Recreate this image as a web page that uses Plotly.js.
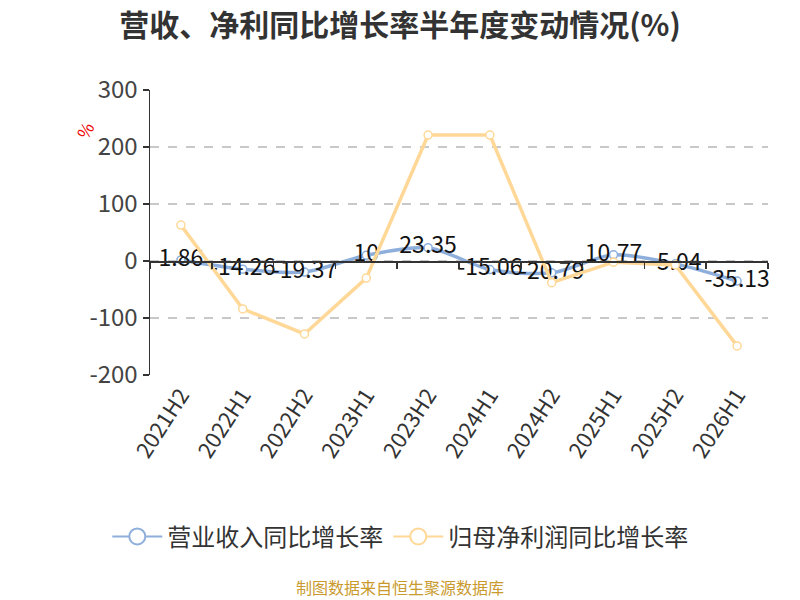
<!DOCTYPE html>
<html>
<head>
<meta charset="utf-8">
<script src="https://cdn.plot.ly/plotly-3.0.1.min.js"></script>
<style>
  body { margin: 0; background: #fff; }
  #chart { width: 800px; height: 600px; }
</style>
</head>
<body>
<div id="chart"></div>
<script>
// half-year periods and YoY growth (%)
var periods = ['2021H2', '2022H1', '2022H2', '2023H1', '2023H2', '2024H1', '2024H2', '2025H1', '2025H2', '2026H1'];
var revenueGrowth = [1.86, -14.26, -19.37, 10, 23.35, -15.06, -20.79, 10.77, -5.04, -35.13];
var profitGrowth = [63, -84, -128, -30, 221, 221, -38, -2, -7, -149];
var yTicks = [-200, -100, 0, 100, 200, 300];

var FONT = '"Noto Sans CJK SC", "Noto Sans", sans-serif';
var BLUE = '#8eaedc';
var ORANGE = '#ffd898';

var revenue = {
    name: '营业收入同比增长率',
    x: periods,
    y: revenueGrowth,
    type: 'scatter',
    mode: 'lines+markers+text',
    text: revenueGrowth.map(String),
    textposition: 'middle center',
    textfont: { family: FONT, size: 23, color: '#111' },
    line: { color: BLUE, width: 3.5, shape: 'spline', smoothing: 0.8 },
    marker: { symbol: 'circle', size: 8, color: '#fff', line: { color: BLUE, width: 1.5 } },
    cliponaxis: false,
    showlegend: false,
    xaxis: 'x',
    yaxis: 'y'
};

var profit = {
    name: '归母净利润同比增长率',
    x: periods,
    y: profitGrowth,
    type: 'scatter',
    mode: 'lines+markers',
    line: { color: ORANGE, width: 3.5 },
    marker: { symbol: 'circle', size: 8, color: '#fff', line: { color: ORANGE, width: 1.5 } },
    cliponaxis: false,
    showlegend: false,
    xaxis: 'x2',
    yaxis: 'y'
};

// legend entries only (bigger symbols than the plotted markers)
function legendEntry(name, color) {
    return {
        name: name,
        x: [null],
        y: [null],
        type: 'scatter',
        mode: 'lines+markers',
        line: { color: color, width: 2 },
        marker: { symbol: 'circle', size: 16, color: '#fff', line: { color: color, width: 2 } },
        showlegend: true,
        hoverinfo: 'skip'
    };
}

var layout = {
    width: 800,
    height: 600,
    paper_bgcolor: '#fff',
    plot_bgcolor: '#fff',
    font: { family: FONT, color: '#333' },
    margin: { l: 150, r: 32, t: 90, b: 225 },
    title: {
        text: '<b>营收、净利同比增长率半年度变动情况(%)</b>',
        font: { family: FONT, size: 30, color: '#333' },
        x: 0.5, xanchor: 'center',
        y: 0.958, yanchor: 'middle'
    },
    showlegend: true,
    legend: {
        orientation: 'h',
        x: 0.405, xanchor: 'center',
        y: -0.568, yanchor: 'middle',
        font: { family: FONT, size: 24, color: '#333' },
        itemwidth: 50,
        tracegroupgap: 0
    },
    xaxis: {
        type: 'category',
        categoryorder: 'array',
        categoryarray: periods,
        range: [-0.5, 9.5],
        showgrid: false,
        showline: false,
        zeroline: false,
        ticks: '',
        tickangle: -57,
        tickfont: { family: FONT, size: 22, color: '#333' },
        ticklabelstandoff: 2
    },
    xaxis2: {
        type: 'category',
        categoryorder: 'array',
        categoryarray: periods,
        range: [-0.5, 9.5],
        overlaying: 'x',
        anchor: 'free',
        position: 0.4,
        side: 'bottom',
        showgrid: false,
        showline: true,
        linecolor: '#333',
        linewidth: 1.5,
        zeroline: false,
        ticks: 'outside',
        tickson: 'boundaries',
        ticklen: 6,
        tickcolor: '#333',
        tickwidth: 1.5,
        showticklabels: false
    },
    yaxis: {
        range: [-200, 300],
        tickvals: yTicks,
        ticktext: yTicks.map(String),
        showgrid: true,
        gridcolor: '#c8c8c8',
        griddash: 'dash',
        gridwidth: 1.3,
        zeroline: false,
        showline: true,
        linecolor: '#333',
        linewidth: 1.5,
        ticks: 'outside',
        ticklen: 6,
        tickcolor: '#333',
        tickwidth: 1.5,
        tickfont: { family: FONT, size: 24, color: '#444' }
    },
    annotations: [{
        text: '%',
        xref: 'paper', yref: 'paper',
        x: -0.105, y: 0.86,
        xanchor: 'center', yanchor: 'middle',
        showarrow: false,
        textangle: -60,
        font: { family: FONT, size: 17, color: '#e00' }
    }, {
        text: '制图数据来自恒生聚源数据库',
        xref: 'paper', yref: 'paper',
        x: 0.405, y: -0.745,
        xanchor: 'center', yanchor: 'middle',
        showarrow: false,
        font: { family: FONT, size: 16, color: '#c99a2e' }
    }]
};

Plotly.newPlot('chart', [revenue, profit, legendEntry(revenue.name, BLUE), legendEntry(profit.name, ORANGE)], layout, { staticPlot: true });
</script>
</body>
</html>
